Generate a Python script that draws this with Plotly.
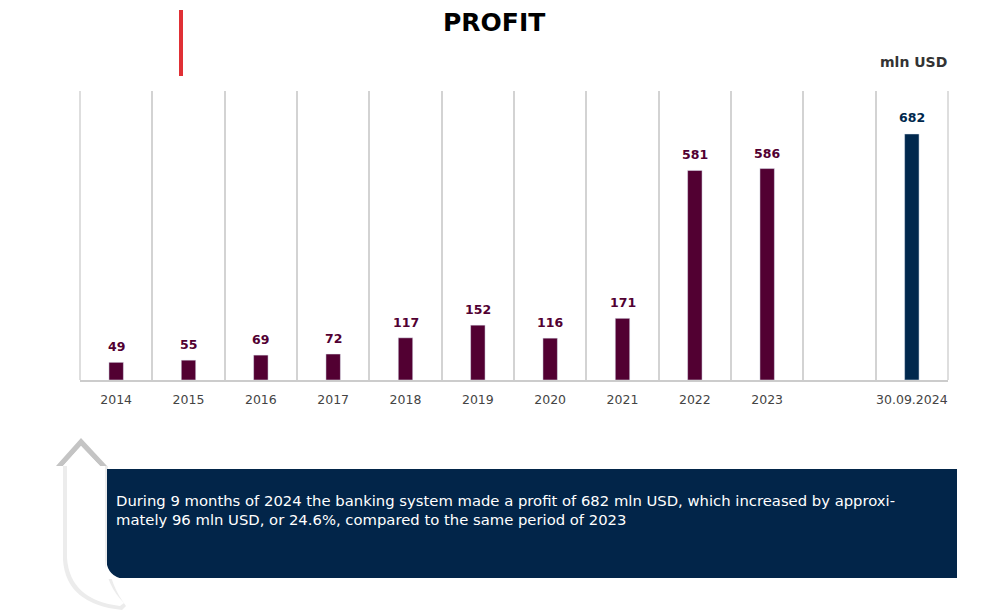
import plotly.graph_objects as go

years = ["2014", "2015", "2016", "2017", "2018", "2019", "2020", "2021", "2022", "2023"]
profit = [49, 55, 69, 72, 117, 152, 116, 171, 581, 586]
gap_label = " "
latest_label = "30.09.2024"
latest_value = [682]
title_text = "PROFIT"
unit_text = "mln USD"
note_text = ("During 9 months of 2024 the banking system made a profit of 682 mln USD, which increased by approxi-"
             "<br>mately 96 mln USD, or 24.6%, compared to the same period of 2023")

categories = years + [gap_label, latest_label]

# page offset (browser body margin)
OX, OY = 8, 8
W, H = 1000, 616
PL, PR, PT, PB = 80, 948, 91, 380
L, T = PL - OX, PT - OY
R, B = W - (PR - OX), H - (PB - OY)
PW, PH = PR - PL, PB - PT


def px(x):
    return (x - PL) / PW


def py(y):
    return (PB - y) / PH


maroon = "#520032"
navy = "#00284d"
font_main = "DejaVu Sans"
grid_col = "#d3d3d3"

fig = go.Figure()
fig.add_trace(go.Bar(x=years, y=profit, marker_color=maroon, width=0.2, hoverinfo="x+y"))
fig.add_trace(go.Bar(x=[latest_label], y=latest_value, marker_color=navy, width=0.2, hoverinfo="x+y"))

annotations = []
for cat, val in zip(years, profit):
    annotations.append(dict(xref="x", yref="y", x=categories.index(cat), y=val, text=f"<b>{val}</b>",
                            showarrow=False, yanchor="bottom", yshift=6,
                            font=dict(family=font_main, size=12.5, color=maroon)))
for val in latest_value:
    annotations.append(dict(xref="x", yref="y", x=categories.index(latest_label), y=val, text=f"<b>{val}</b>",
                            showarrow=False, yanchor="bottom", yshift=7,
                            font=dict(family=font_main, size=12.5, color=navy)))

shapes = []
for xx in (0, 1):
    shapes.append(dict(type="line", xref="paper", yref="paper", x0=xx, x1=xx, y0=0, y1=1,
                       line=dict(color=grid_col, width=1.5), layer="below"))
shapes.append(dict(type="line", xref="paper", yref="paper", x0=px(181), x1=px(181), y0=py(10), y1=py(76),
                   line=dict(color="#e03035", width=4)))
shadow_path = (f"M {px(63)},{py(466)} L {px(63)},{py(560)} Q {px(66)},{py(604)} {px(122)},{py(610)} "
               f"L {px(126)},{py(606)} Q {px(110)},{py(585)} {px(108)},{py(560)} L {px(108)},{py(466)} Z")
shapes.append(dict(type="path", xref="paper", yref="paper", path=shadow_path,
                   fillcolor="#ececec", line=dict(width=0), layer="above"))
body_path = (f"M {px(67)},{py(466)} L {px(67)},{py(558)} Q {px(70)},{py(600)} {px(120)},{py(606)} "
             f"L {px(124)},{py(603)} Q {px(106)},{py(585)} {px(105)},{py(560)} L {px(105)},{py(466)} Z")
shapes.append(dict(type="path", xref="paper", yref="paper", path=body_path,
                   fillcolor="white", line=dict(width=0), layer="above"))
head_path = (f"M {px(56)},{py(466)} L {px(81)},{py(438)} L {px(107)},{py(466)} L {px(100)},{py(466)} "
             f"L {px(81)},{py(446)} L {px(63)},{py(466)} Z")
shapes.append(dict(type="path", xref="paper", yref="paper", path=head_path,
                   fillcolor="#c4c4c4", line=dict(width=0), layer="above"))
head_inner = f"M {px(63)},{py(466)} L {px(81)},{py(446)} L {px(100)},{py(466)} Z"
shapes.append(dict(type="path", xref="paper", yref="paper", path=head_inner,
                   fillcolor="white", line=dict(width=0), layer="above"))
shapes.append(dict(type="rect", xref="paper", yref="paper", x0=px(107), x1=px(957), y0=py(578), y1=py(469),
                   fillcolor="#022549", line=dict(width=0), layer="above"))
corner_path = f"M {px(106)},{py(560)} Q {px(108)},{py(577)} {px(124)},{py(579)} L {px(106)},{py(579)} Z"
shapes.append(dict(type="path", xref="paper", yref="paper", path=corner_path,
                   fillcolor="white", line=dict(width=0), layer="above"))

annotations += [
    dict(text=f"<b>{title_text}</b>", xref="paper", yref="paper", x=px(494), y=py(23),
         xanchor="center", yanchor="middle", showarrow=False,
         font=dict(family=font_main, size=25, color="#000000")),
    dict(text=f"<b>{unit_text}</b>", xref="paper", yref="paper", x=px(949), y=py(62),
         xanchor="right", yanchor="middle", showarrow=False,
         font=dict(family=font_main, size=14, color="#333333")),
    dict(text=note_text, xref="paper", yref="paper", x=px(114), y=py(510),
         xanchor="left", yanchor="middle", align="left", showarrow=False,
         font=dict(family=font_main, size=14.8, color="#ffffff")),
]

fig.update_layout(
    width=W, height=H, margin=dict(l=L, r=R, t=T, b=B),
    paper_bgcolor="white", plot_bgcolor="white",
    showlegend=False, bargap=0.8,
    shapes=shapes, annotations=annotations,
    xaxis=dict(type="category", categoryorder="array", categoryarray=categories,
               range=[-0.5, len(categories) - 0.5],
               tickson="boundaries", showgrid=True, gridcolor=grid_col, gridwidth=1.5,
               showline=True, linecolor="#cccccc", linewidth=2, ticks="", tickangle=0,
               ticklabelstandoff=7,
               tickfont=dict(family=font_main, size=12.5, color="#444444"),
               fixedrange=True),
    yaxis=dict(range=[0, 801], showgrid=False, showticklabels=False, zeroline=False,
               fixedrange=True),
)

fig.write_html("out.html")
